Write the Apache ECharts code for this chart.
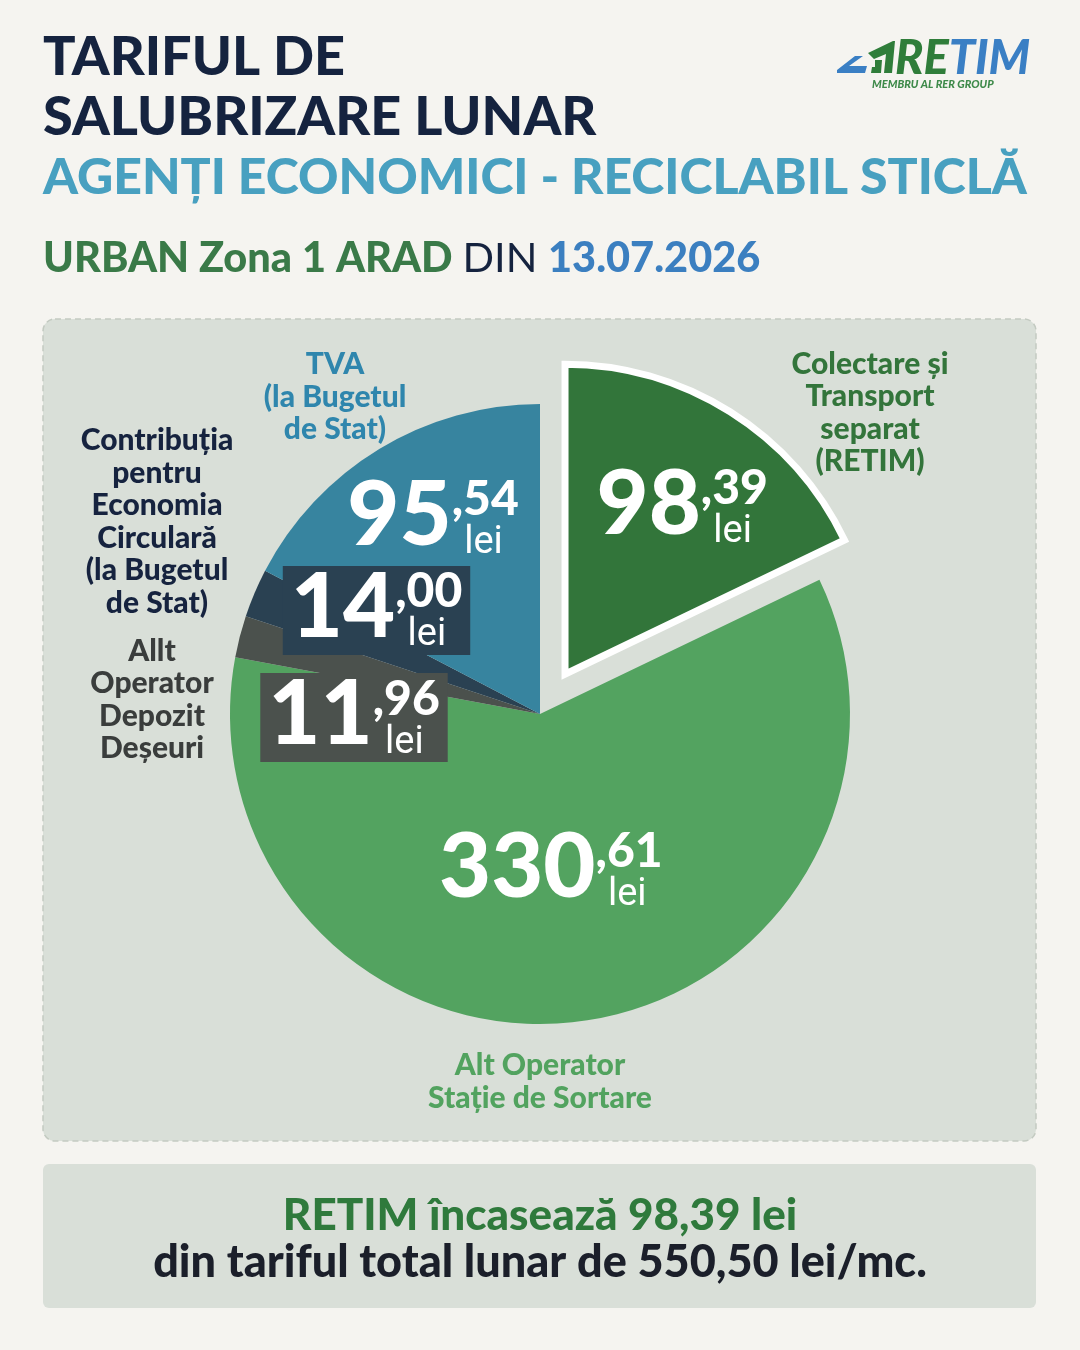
<!DOCTYPE html>
<html><head><meta charset="utf-8">
<script src="https://cdn.jsdelivr.net/npm/echarts@6/dist/echarts.min.js"></script>
<style>html,body{margin:0;padding:0;background:#f5f4f0}#c{width:1080px;height:1350px}</style>
</head><body><div id="c"></div>
<script>
// ---- data ----
const categories = ['Colectare și\nTransport\nseparat\n(RETIM)', 'Alt Operator\nStație de Sortare', 'Allt\nOperator\nDepozit\nDeșeuri', 'Contribuția\npentru\nEconomia\nCirculară\n(la Bugetul\nde Stat)', 'TVA\n(la Bugetul\nde Stat)'];
const values = [98.39, 330.61, 11.96, 14.00, 95.54];
const unit = 'lei';
const titleLines = ['TARIFUL DE', 'SALUBRIZARE LUNAR'];
const subtitle = 'AGENȚI ECONOMICI - RECICLABIL STICLĂ';
const zoneText = 'URBAN Zona 1 ARAD';
const dinText = 'DIN';
const dateText = '13.07.2026';

// ---- styles ----
const sliceColors = ['#32753a', '#53a360', '#4b514d', '#2a4152', '#37849f'];
const nameColors = ['#33753b', '#52a35f', '#3a3d3c', '#16233f', '#2f86ad'];
const labelBoxes = [null, null, '#4b514d', '#2a4152', null];
const valueOffsets = [[33, -33], [-10, 0], [-33, 43], [-18, -42], [-25, -60]];
const namePos = [[870, 413], [540, 1082], [152, 700], [157, 522], [335, 397]];
const FONT = 'Lato';

function fmt(v) { return v.toFixed(2).replace('.', ','); }
const total = values.reduce((a, b) => a + b, 0);

const chart = echarts.init(document.getElementById('c'), null, { width: 1080, height: 1350, renderer: 'canvas' });

const mainData = values.map((v, i) => {
  const d = { name: categories[i], value: v, itemStyle: { color: sliceColors[i] } };
  if (i === 0) { d.selected = true; d.itemStyle.borderColor = '#ffffff'; d.itemStyle.borderWidth = 7; d.itemStyle.borderJoin = 'miter'; }
  if (labelBoxes[i]) d.label = { backgroundColor: labelBoxes[i], padding: [9, 8, 8, 8] };
  return d;
});
const nameData = values.map((v, i) => ({ name: categories[i], value: v, label: { color: nameColors[i] } }));

const option = {
  backgroundColor: '#f5f4f0',
  animation: false,
  graphic: [
    { type: 'rect', z: -5, shape: { x: 43, y: 319, width: 993, height: 822, r: 12 }, style: { fill: '#d9dfd8', stroke: '#c3cac1', lineWidth: 1.5, lineDash: [6, 4] } },
    { type: 'rect', z: -5, shape: { x: 43, y: 1164, width: 993, height: 144, r: 6 }, style: { fill: '#d9dfd8' } },
    { type: 'text', x: 43, y: 58, style: { text: titleLines[0], font: '900 54px ' + FONT, fill: '#15233f', verticalAlign: 'middle', textVerticalAlign: 'middle' } },
    { type: 'text', x: 43, y: 118, style: { text: titleLines[1], font: '900 54px ' + FONT, fill: '#15233f', verticalAlign: 'middle', textVerticalAlign: 'middle' } },
    { type: 'text', x: 43, y: 178, style: { text: subtitle, font: '900 50px ' + FONT, fill: '#48a0c0', verticalAlign: 'middle', textVerticalAlign: 'middle' } },
    { type: 'text', x: 43, y: 259, style: { text: '{a|' + zoneText + ' }{b|' + dinText + ' }{c|' + dateText + '}', verticalAlign: 'middle', textVerticalAlign: 'middle',
      rich: { a: { font: '900 41.5px ' + FONT, fill: '#3a7a48', color: '#3a7a48' }, b: { font: '400 41.5px ' + FONT, fill: '#15233f', color: '#15233f' }, c: { font: '900 41.5px ' + FONT, fill: '#3b7fc0', color: '#3b7fc0' } } } },
    // logo
    { type: 'polygon', shape: { points: [[837, 70], [855, 56], [863, 56], [849, 66], [867, 66], [865, 73], [837, 73]] }, style: { fill: '#3a7fc4' } },
    { type: 'polygon', shape: { points: [[868, 53], [893, 41], [895, 41], [892, 73], [884, 73], [886, 54], [874, 59]] }, style: { fill: '#2f7d3a' } },
    { type: 'polygon', shape: { points: [[875, 60], [882, 60], [881, 73], [871, 73], [872, 67], [875, 67]] }, style: { fill: '#2f7d3a' } },
    { type: 'text', x: 895, y: 59, style: { text: '{g|RE}{b|TIM}', verticalAlign: 'middle', textVerticalAlign: 'middle',
      rich: { g: { font: 'italic 900 47px ' + FONT, fill: '#2f7d3a', color: '#2f7d3a' }, b: { font: 'italic 900 47px ' + FONT, fill: '#3a7fc4', color: '#3a7fc4' } } } },
    { type: 'text', x: 872, y: 84, style: { text: 'MEMBRU AL RER GROUP', font: 'italic 900 11px ' + FONT, fill: '#3e8a4a', verticalAlign: 'middle', textVerticalAlign: 'middle' } },
    // bottom summary
    { type: 'text', x: 540, y: 1216, style: { text: 'RETIM încasează ' + fmt(values[0]) + ' ' + unit, font: '900 44px ' + FONT, fill: '#2f7a3c', align: 'center', textAlign: 'center', verticalAlign: 'middle', textVerticalAlign: 'middle' } },
    { type: 'text', x: 540, y: 1262, style: { text: 'din tariful total lunar de ' + fmt(total) + ' ' + unit + '/mc.', font: '900 45px ' + FONT, fill: '#1b1f2a', align: 'center', textAlign: 'center', verticalAlign: 'middle', textVerticalAlign: 'middle' } }
  ],
  series: [
    {
      type: 'pie', name: 'names', z: 1, silent: true,
      center: [540, 714], radius: 310, startAngle: 90, clockwise: true,
      itemStyle: { color: 'rgba(0,0,0,0)' },
      label: { show: true, position: 'inside', formatter: '{b}', fontFamily: FONT, fontWeight: 900, fontSize: 30, lineHeight: 32.5, align: 'center' },
      labelLine: { show: false },
      labelLayout: p => ({ x: namePos[p.dataIndex][0], y: namePos[p.dataIndex][1], align: 'center', verticalAlign: 'middle' }),
      emphasis: { disabled: true },
      data: nameData
    },
    {
      type: 'pie', name: 'tarif', z: 2,
      center: [540, 714], radius: 310, startAngle: 90, clockwise: true,
      selectedMode: 'single', selectedOffset: 47,
      emphasis: { disabled: true },
      label: {
        show: true, position: 'inside',
        formatter: p => { const s = fmt(p.value).split(','); return '{int|' + s[0] + '}{dec|,' + s[1] + '}\n{lei|' + unit + '}'; },
        rich: {
          int: { fontFamily: FONT, fontWeight: 900, fontSize: 90, color: '#fff', height: 66, lineHeight: 50, verticalAlign: 'top' },
          dec: { fontFamily: FONT, fontWeight: 900, fontSize: 48, color: '#fff', height: 34, lineHeight: 50, verticalAlign: 'top' },
          lei: { fontFamily: 'Roboto', fontWeight: 400, fontSize: 38, color: '#fff', lineHeight: 22, align: 'right', padding: [0, 16, 0, 0] }
        }
      },
      labelLine: { show: false },
      labelLayout: p => ({ dx: valueOffsets[p.dataIndex][0], dy: valueOffsets[p.dataIndex][1] }),
      data: mainData
    }
  ]
};
chart.setOption(option);
</script></body></html>
